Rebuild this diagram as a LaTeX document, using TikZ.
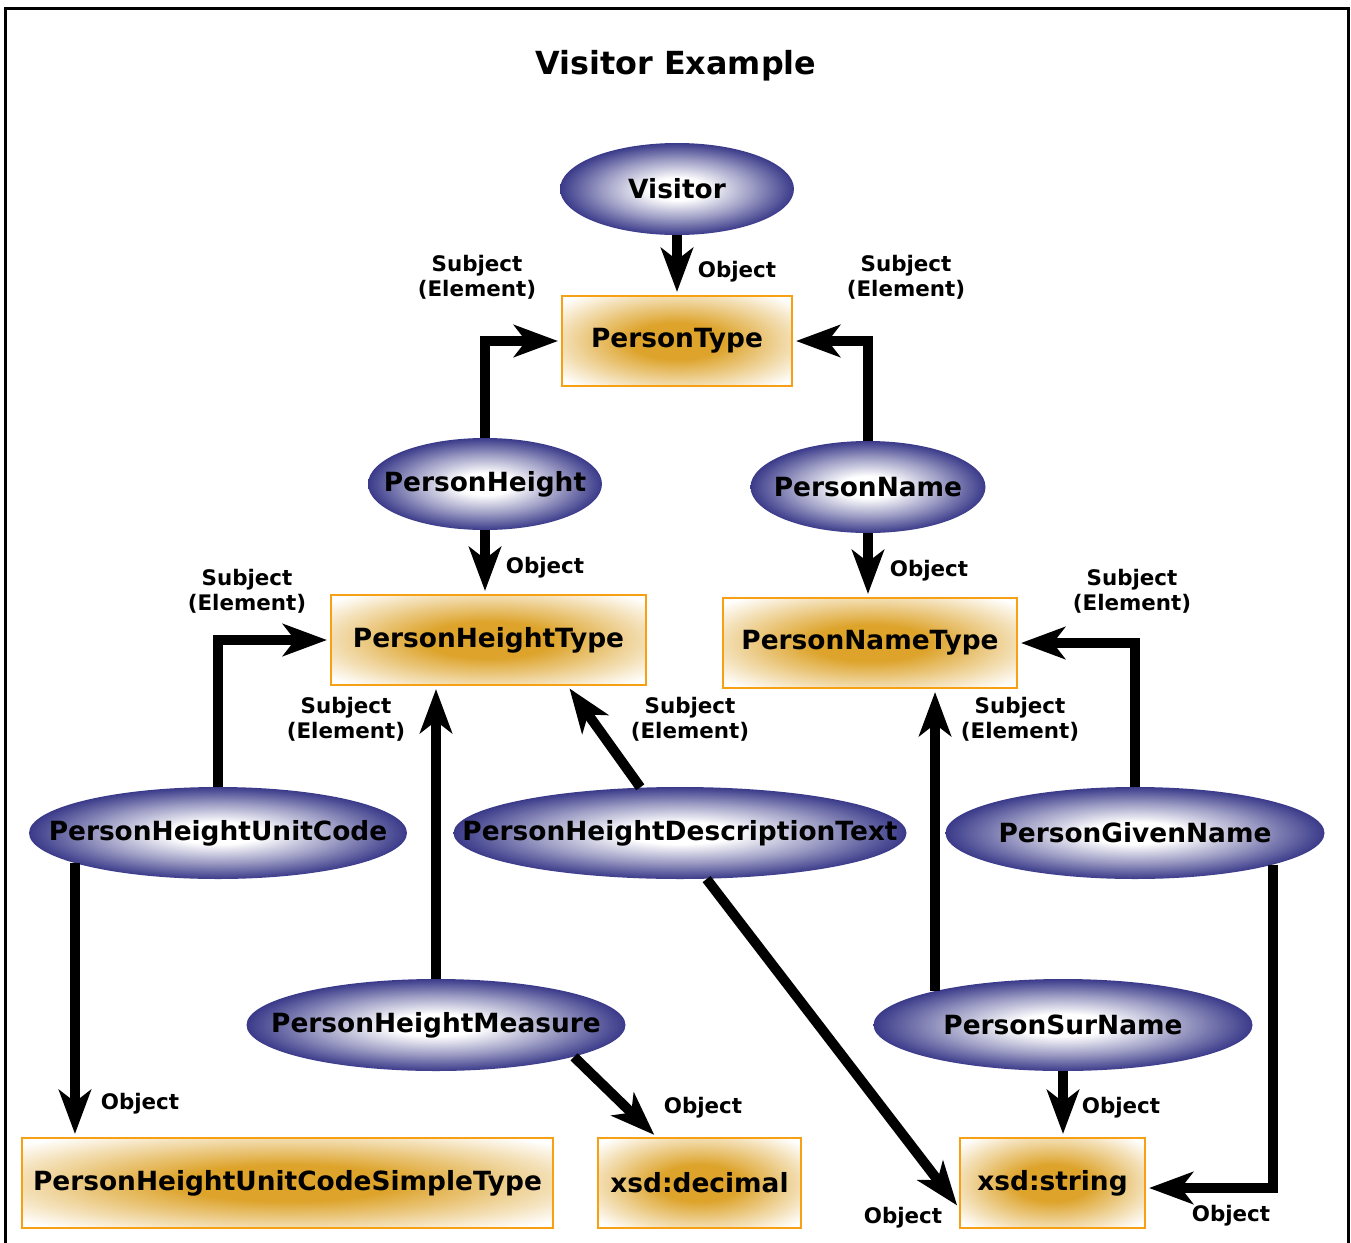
\documentclass[tikz,border=0pt]{standalone}
\usepackage{fontspec}
\setmainfont{DejaVu Sans}
\usetikzlibrary{arrows.meta,calc,shapes.geometric}

\definecolor{ovalblue}{RGB}{58,58,138}
\definecolor{boxgold}{RGB}{221,163,42}
\definecolor{boxedge}{RGB}{247,160,20}

\pgfdeclareradialshading{ovalshade}{\pgfpoint{0bp}{0bp}}{color(0bp)=(white); color(6bp)=(white); color(16bp)=(ovalblue!50!white); color(25bp)=(ovalblue); color(50bp)=(ovalblue)}
\pgfdeclareradialshading{boxshade}{\pgfpoint{0bp}{0bp}}{color(0bp)=(boxgold); color(10bp)=(boxgold); color(25bp)=(boxgold!35!white); color(33bp)=(white); color(50bp)=(white)}

\begin{document}
\begin{tikzpicture}[x=0.5pt, y=-0.5pt,
    every node/.style={anchor=center, font=\fontsize{13.2}{15}\selectfont\bfseries},
    oval/.style={ellipse, shading=ovalshade, inner sep=0pt, minimum height=46pt,
        execute at begin node={\hbox to 0pt\bgroup\hss}, execute at end node={\hss\egroup}},
    typebox/.style={rectangle, draw=boxedge, line width=1pt, shading=boxshade, inner sep=0pt, minimum height=45pt},
    tag/.style={align=center, font=\fontsize{10.7}{12.5}\selectfont\bfseries},
    arrow/.style={-{Stealth[length=22pt, width=16pt, inset=6pt]}, line width=5pt, shorten >=1.5pt}
    ]

\useasboundingbox (0,0) rectangle (1351,1243);
\draw[line width=1.5pt] (5,1260) -- (5,8) -- (1348,8) -- (1348,1260);

% Title
\node (title) at (676,66) {\fontsize{15.9}{18}\selectfont Visitor Example};

% Properties
\node[oval, minimum width=117pt] (visitor) at (677,189) {Visitor};
\node[oval, minimum width=117pt] (height) at (485,484) {PersonHeight};
\node[oval, minimum width=117.5pt] (name) at (868,487) {PersonName};
\node[oval, minimum width=189pt] (unitcode) at (218,833) {PersonHeightUnitCode};
\node[oval, minimum width=226.5pt] (desc) at (680,833) {PersonHeightDescriptionText};
\node[oval, minimum width=189.5pt] (given) at (1135,833) {PersonGivenName};
\node[oval, minimum width=189.5pt] (measure) at (436,1025) {PersonHeightMeasure};
\node[oval, minimum width=189.5pt] (surname) at (1063,1025) {PersonSurName};

% Types
\node[typebox, minimum width=115pt] (persontype) at (677,341) {PersonType};
\node[typebox, minimum width=157.5pt] (heighttype) at (488.5,640) {PersonHeightType};
\node[typebox, minimum width=147pt] (nametype) at (870,643) {PersonNameType};
\node[typebox, minimum width=265.5pt] (unitcodetype) at (287.5,1183) {PersonHeightUnitCodeSimpleType};
\node[typebox, minimum width=101.5pt] (decimal) at (699.5,1183) {xsd:decimal};
\node[typebox, minimum width=92.5pt] (string) at (1052.5,1183) {xsd:string};

% Arrows to the types
\draw[arrow] (visitor) -- (persontype);
\draw[arrow] (height.north) |- (persontype.west);
\draw[arrow] (name.north) |- (persontype.east);
\draw[arrow] (height.south) -- (height.south |- heighttype.north);
\draw[arrow] (name.south) -- (name.south |- nametype.north);
\draw[arrow] (unitcode.north) |- (heighttype.west);
\draw[arrow] (measure.north) -- (measure.north |- heighttype.south);
\draw[arrow] (desc.131) -- ($(heighttype.south east)!0.25!(heighttype.south west)$);
\draw[arrow] (given.north) |- (nametype.east);
\draw[arrow] (surname.165) -- (surname.165 |- nametype.south);
\draw[arrow] (unitcode.192) -- (unitcode.192 |- unitcodetype.north);
\draw[arrow] (measure.-13) -- ($(decimal.north west)!0.29!(decimal.north east)$);
\draw[arrow] (desc.-60) -- ($(string.south west)!0.23!(string.north west)$);
\draw[arrow] (given.-13) |- ($(string.east)+(0,5)$);
\draw[arrow] (surname.south) -- (surname.south |- string.north);

% Labels
\node[tag] (o visitor) at (737,272) {Object};
\node[tag] (s height) at (477,277) {Subject\\(Element)};
\node[tag] (s name) at (906,277) {Subject\\(Element)};
\node[tag] (o height) at (545,568) {Object};
\node[tag] (o name) at (929,571) {Object};
\node[tag] (s unitcode) at (247,591) {Subject\\(Element)};
\node[tag] (s measure) at (346,719) {Subject\\(Element)};
\node[tag] (s desc) at (690,719) {Subject\\(Element)};
\node[tag] (s surname) at (1020,719) {Subject\\(Element)};
\node[tag] (s given) at (1132,591) {Subject\\(Element)};
\node[tag] (o unitcode) at (140,1104) {Object};
\node[tag] (o measure) at (703,1108) {Object};
\node[tag] (o desc) at (903,1218) {Object};
\node[tag] (o surname) at (1121,1108) {Object};
\node[tag] (o given) at (1231,1216) {Object};

\end{tikzpicture}
\end{document}
